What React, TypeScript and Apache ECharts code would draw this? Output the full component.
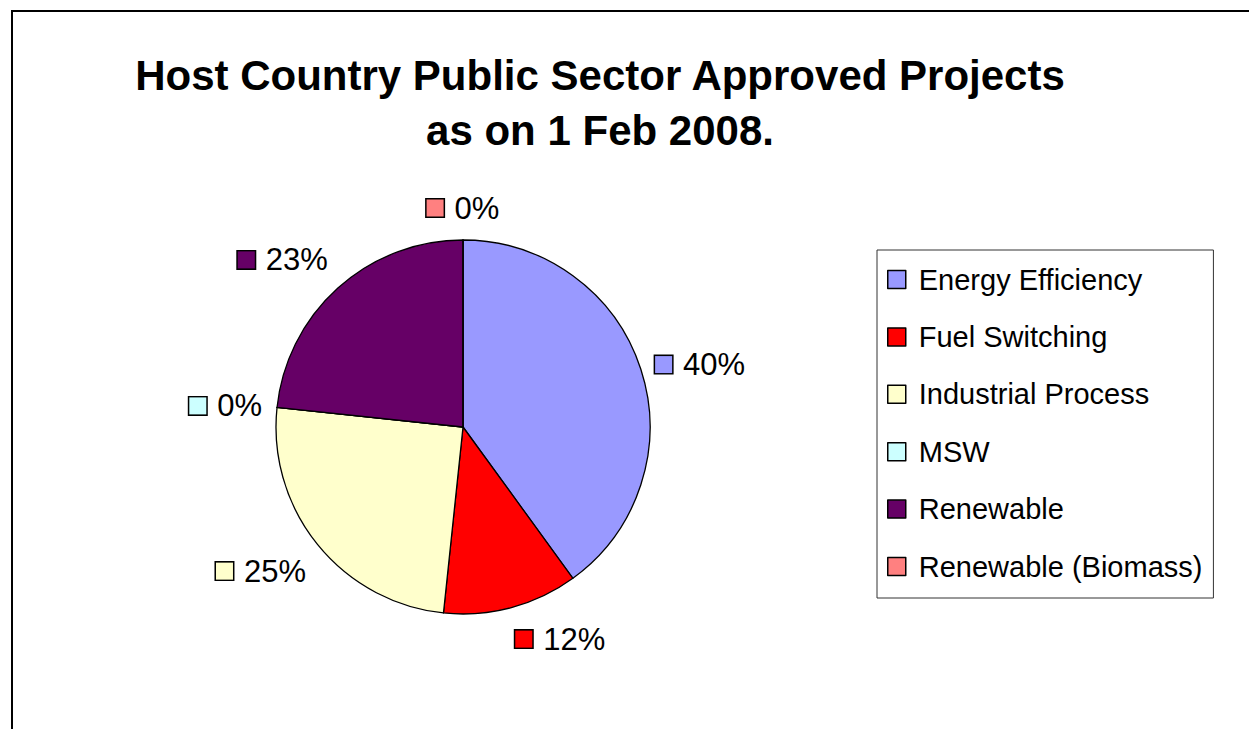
import React, { useEffect, useRef } from 'react';
import * as echarts from 'echarts';

const categories = [
  'Energy Efficiency',
  'Fuel Switching',
  'Industrial Process',
  'MSW',
  'Renewable',
  'Renewable (Biomass)',
];
const projectCounts = [24, 7, 15, 0, 14, 0];
const sliceColors = ['#9999FF', '#FF0000', '#FFFFCC', '#CCFFFF', '#660066', '#FF8080'];
const titleLines = ['Host Country Public Sector Approved Projects', 'as on 1 Feb 2008.'];

const FONT = '"Liberation Sans", Arial, Helvetica, sans-serif';
const PIE_CX = 463;
const PIE_CY = 427;
const PIE_R = 187;
const LABEL_GAP = 15;

export default function App() {
  const ref = useRef<HTMLDivElement>(null);

  useEffect(() => {
    const chart = echarts.init(ref.current!, null, { renderer: 'svg' });
    const total = projectCounts.reduce((a, b) => a + b, 0);
    const mids: number[] = [];
    let acc = 0;
    projectCounts.forEach((v) => {
      mids.push(((acc + v / 2) / total) * Math.PI * 2);
      acc += v;
    });

    const rich: any = {};
    sliceColors.forEach((c, i) => {
      rich['sq' + i] = {
        width: 17,
        height: 17,
        backgroundColor: c,
        borderColor: '#000',
        borderWidth: 1.5,
        verticalAlign: 'middle',
      };
    });
    rich.t = {
      fontSize: 31,
      fontFamily: FONT,
      color: '#000',
      padding: [0, 0, 0, 11],
      lineHeight: 34,
      verticalAlign: 'middle',
    };

    chart.setOption({
      animation: false,
      backgroundColor: '#fff',
      title: {
        text: titleLines.join('\n'),
        left: 600,
        top: 48,
        padding: 0,
        textAlign: 'center',
        textStyle: {
          fontSize: 42,
          fontWeight: 'bold',
          fontFamily: FONT,
          color: '#000',
          lineHeight: 55,
        },
      },
      legend: {
        orient: 'vertical',
        left: 877,
        top: 250,
        padding: [15, 11, 17, 10],
        itemGap: 28.4,
        itemWidth: 18,
        itemHeight: 18,
        icon: 'rect',
        selectedMode: false,
        borderColor: '#333',
        borderWidth: 1,
        itemStyle: { borderColor: '#000', borderWidth: 1.5 },
        textStyle: {
          fontSize: 29,
          fontFamily: FONT,
          color: '#000',
          lineHeight: 29,
          padding: [0, 0, 0, 8],
          width: 282,
        },
        data: categories,
      },
      graphic: [
        {
          type: 'polyline',
          shape: { points: [[12, 729], [12, 11], [1249, 11]] },
          style: { stroke: '#000', lineWidth: 2, fill: 'none' },
          silent: true,
        },
      ],
      series: [
        {
          type: 'pie',
          center: [PIE_CX, PIE_CY],
          radius: PIE_R,
          startAngle: 90,
          clockwise: true,
          percentPrecision: 0,
          avoidLabelOverlap: false,
          minShowLabelAngle: 0,
          itemStyle: { borderColor: '#000', borderWidth: 1.3 },
          emphasis: { disabled: true },
          label: {
            show: true,
            position: 'outside',
            formatter: (p: any) => `{sq${p.dataIndex}|}{t|${p.percent}%}`,
            rich,
          },
          labelLine: { show: false, length: 10, length2: 0 },
          labelLayout: (params: any) => {
            const a = mids[params.dataIndex];
            const dx = Math.sin(a);
            const dy = -Math.cos(a);
            const r = PIE_R + LABEL_GAP;
            return {
              x: PIE_CX + dx * r,
              y: PIE_CY + dy * r,
              align: dx > 0.1 ? 'left' : dx < -0.1 ? 'right' : 'center',
              verticalAlign: dy > 0.5 ? 'top' : dy < -0.5 ? 'bottom' : 'middle',
            };
          },
          data: categories.map((name, i) => ({
            name,
            value: projectCounts[i],
            itemStyle: { color: sliceColors[i] },
          })),
        },
      ],
    });
    return () => chart.dispose();
  }, []);

  return (
    <div
      ref={ref}
      style={{ position: 'absolute', left: 0, top: 0, width: 1249, height: 729 }}
    />
  );
}
